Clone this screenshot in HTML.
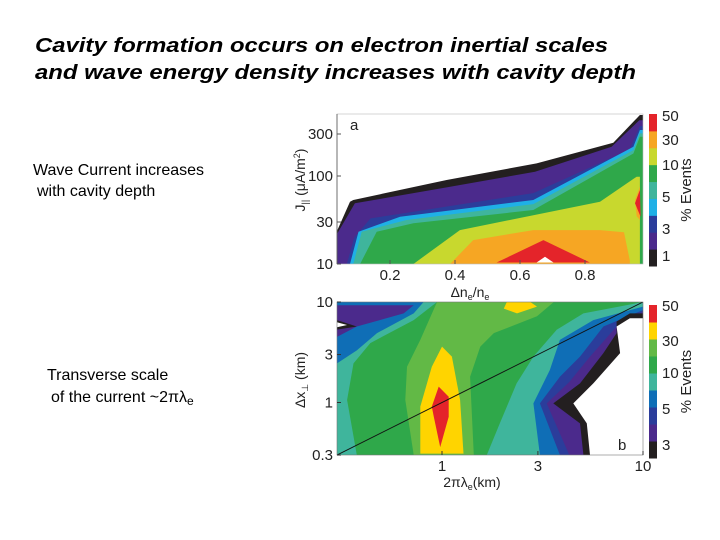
<!DOCTYPE html>
<html><head><meta charset="utf-8"><style>
html,body{margin:0;padding:0;background:#fff;}
svg{display:block;font-family:"Liberation Sans",Arial,sans-serif;}
</style></head><body>
<svg id="c" width="720" height="540" viewBox="0 0 720 540" xmlns="http://www.w3.org/2000/svg">
<text x="35" y="52" font-size="20" font-weight="bold" font-style="italic" textLength="573" lengthAdjust="spacingAndGlyphs">Cavity formation occurs on electron inertial scales</text>
<text x="35" y="79" font-size="20" font-weight="bold" font-style="italic" textLength="601" lengthAdjust="spacingAndGlyphs">and wave energy density increases with cavity depth</text>
<text x="33" y="175" font-size="16">Wave Current increases</text>
<text x="37" y="196" font-size="16">with cavity depth</text>
<text x="47" y="380" font-size="16">Transverse scale</text>
<text x="51" y="402" font-size="16">of the current ~2πλ<tspan font-size="12" dy="3">e</tspan></text>
<g id="pa"></g>
<g id="pb"></g>
</svg>
<script>
const NS="http://www.w3.org/2000/svg";
const C={black:"#231f20",purple:"#4b2a8c",dblue:"#2b3d9b",blue:"#0f6eb6",cyan:"#1fb0e6",teal:"#3fb59c",green:"#2fa84a",lgreen:"#62b946",ygreen:"#c8d82e",yellow:"#ffd400",orange:"#f6a623",red:"#e4242a",white:"#ffffff"};
// Panel a data: contour polygons [dn/n, J]
const aLayers=["black","purple","dblue","cyan","teal","green","ygreen","orange","orange","red","red","white"];
const aPolys=[
[[.036,10],[.036,23.3],[.077,51.1],[.087,53.4],[.374,90.1],[.651,139],[.887,239],[.969,493],[.979,493],[.979,10]],
[[.038,10],[.038,22.3],[.092,48.9],[.374,74.3],[.646,112],[.882,215],[.967,430],[.979,430],[.979,10]],
[[.067,10],[.09,20],[.14,33],[.641,64],[.938,200],[.969,370],[.979,370],[.979,10]],
[[.077,10],[.103,23.3],[.231,34.5],[.641,53.4],[.949,215],[.969,333],[.979,333],[.979,10]],
[[.087,10],[.113,23.3],[.251,31.6],[.641,48],[.949,197],[.969,305],[.979,305],[.979,10]],
[[.108,10],[.159,23.3],[.272,29],[.641,41.1],[.949,180],[.969,280],[.979,280],[.979,10]],
[[.272,10],[.415,24.3],[.846,51.1],[.959,98.2],[.969,98.2],[.969,10]],
[[.385,10],[.456,18.7],[.641,24.3],[.846,24.3],[.92,23],[.938,11],[.938,10]],
[[.954,53.4],[.969,75.7],[.969,31.6],[.959,35]],
[[.528,10.4],[.672,18.7],[.815,10.4]],
[[.954,48.9],[.969,69.3],[.971,34.5]],
[[.651,10.4],[.677,12.1],[.703,10.4]]];
const aXTicks=[0.2,0.4,0.6,0.8];
const aYTicks=[10,30,100,300];
const aCbLabels=["1","3","5","10","30","50"];
const aCbColors=["black","purple","dblue","cyan","teal","green","ygreen","orange","red"];
// Panel b data: [2πλe, Δx]
const bLayers=["teal","blue","purple","black","white","lgreen","yellow","red","yellow","teal","blue","dblue","purple","black","white"];
const bPolys=[
[[.3,10],[.944,10],[.723,6.6],[.44,3.9],[.363,2.45],[.337,1.06],[.377,.3],[.3,.3]],
[[.3,10],[.81,10],[.723,7.7],[.475,4.9],[.377,3.3],[.3,2.45]],
[[.3,9.3],[.723,9.3],[.645,7.7],[.377,5.7],[.3,4.5]],
[[.3,6.6],[.377,5.7],[.3,5.3]],
[[.3,6.3],[.337,5.9],[.3,5.6]],
[[.944,10],[3.6,10],[2.97,7.2],[1.81,4.9],[1.55,3.6],[1.38,1.8],[1.44,.3],[.723,.3],[.657,1.06],[.67,2.27],[.78,4.2]],
[[.78,.31],[.78,.91],[.89,2.27],[1.0,3.6],[1.12,2.86],[1.23,1.06],[1.28,.31]],
[[.89,.91],[.963,1.44],[1.08,1.14],[1.08,.72],[.98,.36],[.91,.72]],
[[2.03,8.6],[2.1,10],[2.75,10],[2.97,9.0],[2.36,7.7]],
[[1.67,.3],[1.94,.62],[2.35,1.55],[2.85,2.86],[3.72,5.3],[5.05,7.7],[10,10],[10,.3]],
[[3.07,.3],[2.85,.98],[3.44,2.1],[3.86,4.2],[5.66,6.6],[10,9],[10,.3]],
[[3.86,.3],[3.07,.98],[3.86,1.8],[4.86,2.86],[6.35,5.7],[10,8.3],[10,.3]],
[[4.3,.3],[3.32,.98],[4.3,1.6],[5.45,2.86],[7.39,5.7],[10,8],[10,.3]],
[[5.05,.3],[4.86,.62],[3.58,.98],[4.86,1.55],[6.35,3.1],[7.39,4.9],[7.39,6.4],[8.61,7.7],[10,7.7],[10,.3]],
[[5.45,.3],[5.25,.62],[4.5,.98],[5.66,1.55],[7.69,3.1],[7.39,5.7],[8.61,6.9],[10,6.9],[10,.3]]];
const bLine=[[0.3,0.3],[10,10]];
const bXTicks=[1,3,10];
const bYTicks=[0.3,1,3,10];
const bCbLabels=["3","5","10","30","50"];
const bCbColors=["black","purple","dblue","blue","teal","green","lgreen","yellow","red"];

const ax={x:v=>325+325*v,y:v=>264-88*Math.log10(v/10)};
const bx={x:v=>442+201*Math.log10(v),y:v=>402.5-100.5*Math.log10(v)};
function el(t,a,p){const e=document.createElementNS(NS,t);for(const k in a)e.setAttribute(k,a[k]);p.appendChild(e);return e;}
function txt(p,x,y,s,size,anchor){const t=el("text",{x:x,y:y,"font-size":size||14,"text-anchor":anchor||"middle",fill:"#222"},p);t.textContent=s;return t;}

function panel(g,S,x0,x1,y0,y1,layers,polys){
  const clip=el("clipPath",{id:g.id+"clip"},g);el("rect",{x:x0,y:y0,width:x1-x0,height:y1-y0},clip);
  const inner=el("g",{"clip-path":"url(#"+g.id+"clip)"},g);
  polys.forEach((poly,i)=>{
    const p=el("polygon",{points:poly.map(d=>S.x(d[0]).toFixed(1)+","+S.y(d[1]).toFixed(1)).join(" "),fill:C[layers[i]]},inner);
    
    
  });
  return inner;
}
function colorbar(g,x,y0,y1,colors,labels,labelYs,name){
  const h=(y1-y0)/colors.length;
  colors.forEach((c,i)=>{
    const r=el("rect",{x:x,y:y1-(i+1)*h,width:8,height:h+0.5,fill:C[c]},g);
    
    
  });
  labels.forEach((l,i)=>{
    const t=txt(g,x+13,labelYs[i]+6,l,15,"start");
    
    
  });
  const t=el("text",{x:0,y:0,"font-size":15,"text-anchor":"middle",fill:"#222",transform:"translate("+(x+42)+","+((y0+y1)/2)+") rotate(-90)"},g);
  t.textContent="% Events";
  
  
}

// Panel a
const pa=document.getElementById("pa");
panel(pa,ax,337,643,114,264,aLayers,aPolys);
el("rect",{x:337,y:114,width:306,height:150,fill:"none",stroke:"#bbb","stroke-width":0.6},pa);
el("line",{x1:337,y1:114,x2:337,y2:264,stroke:"#555","stroke-width":0.8},pa);
aXTicks.forEach(v=>{const t=txt(pa,ax.x(v),280,String(v),15);
 el("line",{x1:ax.x(v),y1:264,x2:ax.x(v),y2:260,stroke:"#555"},pa);});
aYTicks.forEach(v=>{const t=txt(pa,333,ax.y(v)+5,String(v),15,"end");
 el("line",{x1:337,y1:ax.y(v),x2:341,y2:ax.y(v),stroke:"#555"},pa);});
txt(pa,350,130,"a",15,"start");
{const t=el("text",{x:0,y:0,"font-size":14,"text-anchor":"middle",fill:"#222",transform:"translate(305,180) rotate(-90)"},pa);
 t.innerHTML='J<tspan font-size="9" dy="3">||</tspan><tspan dy="-3"> (μA/m</tspan><tspan font-size="9" dy="-5">2</tspan><tspan dy="5">)</tspan>';
 }
{const t=el("text",{x:470,y:297,"font-size":14,"text-anchor":"middle",fill:"#222"},pa);
 t.innerHTML='Δn<tspan font-size="9" dy="3">e</tspan><tspan dy="-3">/n</tspan><tspan font-size="9" dy="3">e</tspan>';
 }
colorbar(pa,649,114,266,aCbColors,aCbLabels,[255,228,196,164,139,115],"colorbar-a");

// Panel b
const pb=document.getElementById("pb");
el("rect",{x:337,y:302,width:306,height:153,fill:C.green},pb);
const inb=panel(pb,bx,337,643,302,455,bLayers,bPolys);
{const l=el("line",{x1:bx.x(bLine[0][0]),y1:bx.y(bLine[0][1]),x2:bx.x(bLine[1][0]),y2:bx.y(bLine[1][1]),stroke:"#111","stroke-width":1},inb);
 }
el("rect",{x:337,y:302,width:306,height:153,fill:"none",stroke:"#777","stroke-width":0.6},pb);
bXTicks.forEach(v=>{const t=txt(pb,bx.x(v),471,String(v),15);
 el("line",{x1:bx.x(v),y1:455,x2:bx.x(v),y2:451,stroke:"#333"},pb);});
bYTicks.forEach(v=>{const t=txt(pb,333,bx.y(v)+5,String(v),15,"end");
 el("line",{x1:337,y1:bx.y(v),x2:341,y2:bx.y(v),stroke:"#333"},pb);});
txt(pb,618,450,"b",15,"start");
{const t=el("text",{x:0,y:0,"font-size":14,"text-anchor":"middle",fill:"#222",transform:"translate(305,380) rotate(-90)"},pb);
 t.innerHTML='Δx<tspan font-size="9" dy="3">⊥</tspan><tspan dy="-3"> (km)</tspan>';
 }
{const t=el("text",{x:472,y:487,"font-size":14,"text-anchor":"middle",fill:"#222"},pb);
 t.innerHTML='2πλ<tspan font-size="9" dy="3">e</tspan><tspan dy="-3">(km)</tspan>';
 }
colorbar(pb,649,305,458,bCbColors,bCbLabels,[444,408,372,340,305],"colorbar-b");
</script>
</body></html>
